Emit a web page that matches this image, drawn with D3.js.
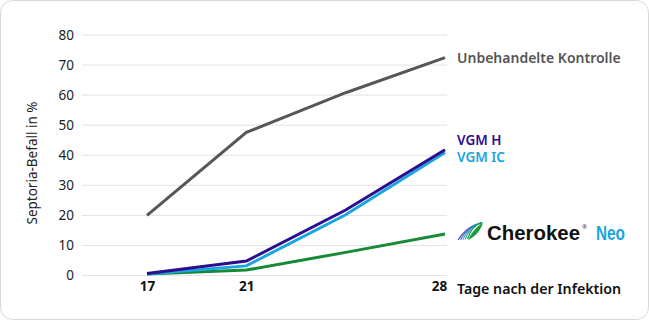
<!DOCTYPE html>
<html>
<head>
<meta charset="utf-8">
<script src="https://cdn.jsdelivr.net/npm/d3@7"></script>
<style>
  body { margin: 0; background: #fff; font-family: "Noto Sans", "Open Sans", sans-serif; }
</style>
</head>
<body>
<script>
// Daten
const days = ["17", "21", "24", "28"];
const dayLabels = ["17", "21", "", "28"];
const yTicks = [0, 10, 20, 30, 40, 50, 60, 70, 80];

const kontrolle = [20, 47.6, 60.8, 72.5];
const vgmH = [0.7, 4.8, 21.8, 41.8];
const vgmIC = [0.5, 3.2, 20.2, 40.9];
const cherokee = [0.5, 1.8, 7.7, 13.8];

const W = 649, H = 320;

const svg = d3.select("body").append("svg")
    .attr("width", W)
    .attr("height", H);

// Karte
svg.append("rect")
    .attr("x", 0.5).attr("y", 0.5)
    .attr("width", W - 1).attr("height", H - 1)
    .attr("rx", 12)
    .attr("fill", "#fff")
    .attr("stroke", "#d9d9d9");

const xScale = d3.scalePoint(days, [147, 445]);
const yScale = d3.scaleLinear([0, 80], [275.5, 35]);

// Gitter
svg.append("g")
    .selectAll("line")
    .data(yTicks)
    .enter()
    .append("line")
    .attr("x1", 82).attr("x2", 447)
    .attr("y1", d => yScale(d)).attr("y2", d => yScale(d))
    .attr("stroke", "#e3e3e3")
    .attr("stroke-width", 1);

// y-Achse
let yAxis = svg.append("g")
    .attr("transform", "translate(74, 0)")
    .call(d3.axisLeft(yScale).tickValues(yTicks).tickSize(0).tickPadding(0));
yAxis.select(".domain").remove();
yAxis.selectAll("text")
    .attr("font-family", "Noto Sans")
    .attr("font-size", 13.5)
    .attr("fill", "#222");

// x-Achse
let xAxis = svg.append("g")
    .attr("transform", "translate(0, 281)")
    .call(d3.axisBottom(xScale).tickSize(0).tickPadding(0).tickFormat((d, i) => dayLabels[i]));
xAxis.select(".domain").remove();
xAxis.selectAll("text")
    .attr("font-family", "Noto Sans")
    .attr("font-size", 13.5)
    .attr("font-weight", 700)
    .attr("fill", "#111");
// "28" sitzt etwas links vom Linienende
xAxis.selectAll(".tick").filter(d => d == "28").select("text").attr("dx", -6);

svg.append("text")
    .attr("transform", "translate(37, 163) rotate(-90)")
    .attr("text-anchor", "middle")
    .attr("font-size", 13.5)
    .attr("fill", "#222")
    .text("Septoria-Befall in %");

svg.append("text")
    .attr("x", 457).attr("y", 294)
    .attr("font-size", 14.2)
    .attr("font-weight", 600)
    .attr("fill", "#111")
    .text("Tage nach der Infektion");

// Linien
const series = [
    { values: kontrolle, color: "#575757" },
    { values: cherokee, color: "#168a37" },
    { values: vgmIC, color: "#19a5e1" },
    { values: vgmH, color: "#2c0c8f" }
];

const dMaker = d3.line()
    .x((d, i) => xScale(days[i]))
    .y(d => yScale(d));

svg.append("g")
    .selectAll("path")
    .data(series)
    .enter()
    .append("path")
    .attr("fill", "none")
    .attr("stroke", d => d.color)
    .attr("stroke-width", 3)
    .attr("d", d => dMaker(d.values));

// Beschriftungen
svg.append("text")
    .attr("x", 457).attr("y", 63)
    .attr("font-size", 14).attr("font-weight", 600)
    .attr("fill", "#555")
    .text("Unbehandelte Kontrolle");

svg.append("text")
    .attr("x", 457).attr("y", 144.5)
    .attr("font-size", 13.5).attr("font-weight", 600)
    .attr("fill", "#2c0c8f")
    .text("VGM H");

svg.append("text")
    .attr("x", 457).attr("y", 162)
    .attr("font-size", 13.5).attr("font-weight", 600)
    .attr("fill", "#19a5e1")
    .text("VGM IC");

// Logo Cherokee Neo
const logo = svg.append("g").attr("transform", "translate(457, 222)");
const leafCols = ["#4a3fb5", "#3566cc", "#2396d8", "#1aa88a", "#1a9a3a"];
leafCols.forEach((c, i) => {
    logo.append("path")
        .attr("d", `M${1 + i * 2.4},${18 - i * 0.2} C${6 + i * 2},${10 - i} ${12 + i * 2},${4 - i * 0.5} ${25},${0.5}`)
        .attr("fill", "none")
        .attr("stroke", c)
        .attr("stroke-width", 1.1);
});
logo.append("path")
    .attr("d", "M11,18 C15,10 19,5 26,0.5 C24,8 19,14 11,18 Z")
    .attr("fill", "#1a9a3a");

svg.append("text")
    .attr("x", 487).attr("y", 240)
    .attr("font-family", "Liberation Sans")
    .attr("font-size", 20).attr("font-weight", 700)
    .attr("fill", "#111")
    .attr("textLength", 93)
    .attr("lengthAdjust", "spacingAndGlyphs")
    .text("Cherokee");
svg.append("text")
    .attr("x", 582).attr("y", 229)
    .attr("font-size", 6)
    .attr("fill", "#333")
    .text("®");
svg.append("text")
    .attr("x", 596).attr("y", 240)
    .attr("font-family", "Liberation Sans")
    .attr("font-size", 20).attr("font-weight", 700)
    .attr("fill", "#19a5e1")
    .attr("textLength", 29)
    .attr("lengthAdjust", "spacingAndGlyphs")
    .text("Neo");
</script>
</body>
</html>
